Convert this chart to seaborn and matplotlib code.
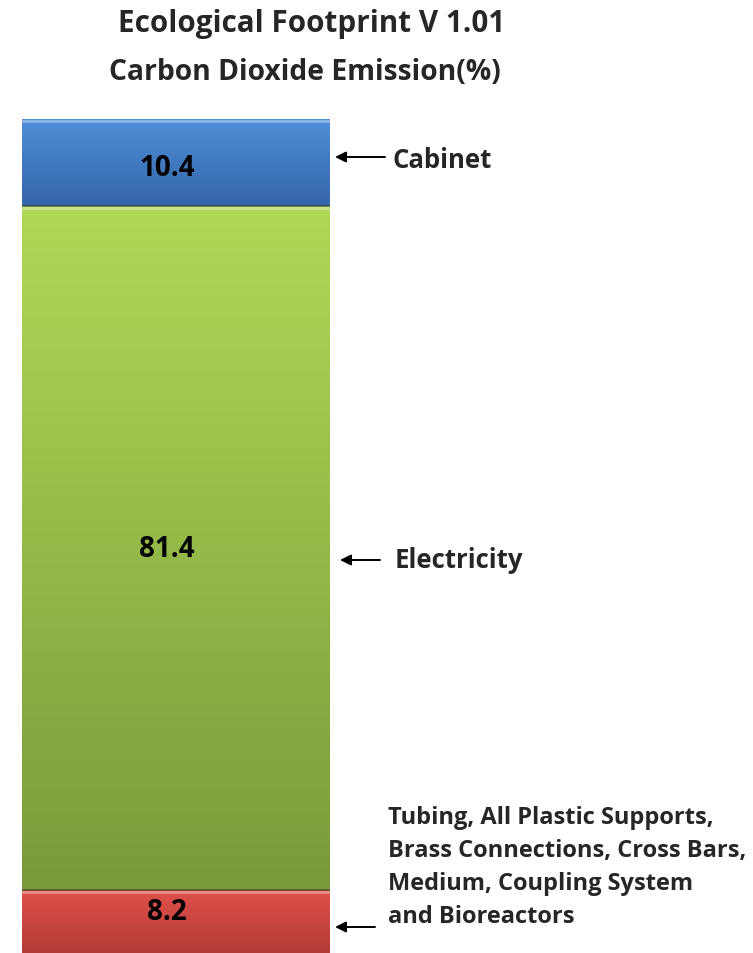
import numpy as np
import pandas as pd
import matplotlib
matplotlib.use("Agg")
import matplotlib.pyplot as plt
import seaborn as sns
from matplotlib.colors import LinearSegmentedColormap

# ---- data ----
components = ["Cabinet", "Electricity",
              "Tubing, All Plastic Supports,\nBrass Connections, Cross Bars,\nMedium, Coupling System\nand Bioreactors"]
values = [10.4, 81.4, 8.2]
title_lines = ["Ecological Footprint V 1.01", "Carbon Dioxide Emission(%)"]

# ---- style ----
top_colors = ["#4f8fd8", "#b0d956", "#e0504a"]
bottom_colors = ["#3565a8", "#7a9a3b", "#ae3a35"]

sns.set_theme(style="white")
plt.rcParams['font.family'] = ['Open Sans', 'DejaVu Sans']

W, H = 753, 954
fig = plt.figure(figsize=(W / 100, H / 100), dpi=100)
ax = fig.add_axes([22 / W, -6 / H, 308 / W, 840 / H])

# stacking order bottom -> top: last component first
order = [2, 1, 0]
bottoms, cum = {}, 0.0
for i in order:
    bottoms[i] = cum
    cum += values[i]
tops = {i: bottoms[i] + values[i] for i in order}

# draw cumulative bars, tallest first (classic seaborn stacking)
for i in sorted(order, key=lambda k: -tops[k]):
    df = pd.DataFrame({"bar": ["CO2"], "cum": [tops[i]]})
    sns.barplot(data=df, x="bar", y="cum", color=top_colors[i], width=1.0,
                saturation=1, edgecolor="none", ax=ax, zorder=1)

# gradient shading per segment
grad = np.linspace(0, 1, 256).reshape(-1, 1)
for i in order:
    cmap = LinearSegmentedColormap.from_list(f"g{i}", [bottom_colors[i], top_colors[i]])
    ax.imshow(grad, cmap=cmap, origin="lower", aspect="auto",
              extent=[-0.5, 0.5, bottoms[i], tops[i]], zorder=2)
    ax.plot([-0.5, 0.5], [tops[i] - 0.25] * 2, color="white", alpha=0.35, lw=2, zorder=3)
    if bottoms[i] > 0:
        ax.plot([-0.5, 0.5], [bottoms[i]] * 2, color="#2a3a20", alpha=0.6, lw=1.2, zorder=4)

ax.set_xlim(-0.5, 0.5)
ax.set_ylim(0, 100)
ax.axis("off")

# value labels
offsets = {0: -0.6, 1: 0.0, 2: 1.5}
for i in order:
    ax.text(-0.03, bottoms[i] + values[i] / 2 + offsets[i], f"{values[i]}",
            ha="center", va="center", fontsize=20, fontweight="bold",
            color="black", zorder=5)

# title
fig.text(312 / W, 1 - 24 / H, title_lines[0], ha="center", va="center",
         fontsize=21.3, fontweight="bold")
fig.text(305 / W, 1 - 72 / H, title_lines[1], ha="center", va="center",
         fontsize=20.3, fontweight="bold")

# right-side labels with arrows
label_pos = {0: (392, 160), 1: (395, 560), 2: (388, 868)}
label_size = {0: 18.5, 1: 18.5, 2: 17}
arrow_pos = {0: (385, 335, 158), 1: (380, 340, 561), 2: (375, 335, 928)}
for i in order:
    x, y = label_pos[i]
    fig.text(x / W, 1 - y / H, components[i], ha="left", va="center",
             fontsize=label_size[i], fontweight="bold", linespacing=1.5)
    x0, x1, ya = arrow_pos[i]
    ax.annotate("", xy=(x1, H - ya), xytext=(x0, H - ya),
                xycoords="figure pixels", textcoords="figure pixels",
                annotation_clip=False,
                arrowprops=dict(arrowstyle="-|>", color="black", lw=1.4,
                                mutation_scale=16, shrinkA=0, shrinkB=0))

fig.savefig("out.png", dpi=100)
